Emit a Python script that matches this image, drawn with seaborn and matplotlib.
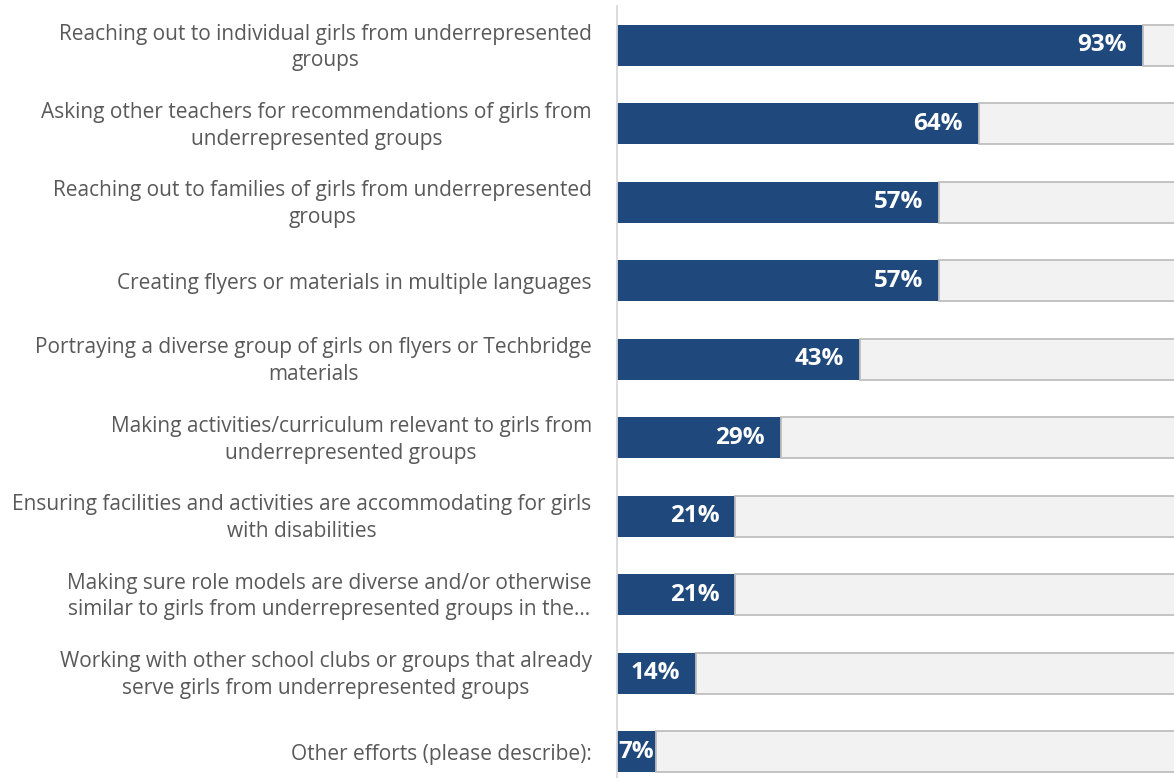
import matplotlib
matplotlib.use("Agg")
import matplotlib.pyplot as plt
import matplotlib.transforms as mtransforms
import seaborn as sns
import pandas as pd

# Survey responses: share of sites using each recruitment effort
efforts = [
    "Reaching out to individual girls from underrepresented\ngroups",
    "Asking other teachers for recommendations of girls from\nunderrepresented groups",
    "Reaching out to families of girls from underrepresented\ngroups",
    "Creating flyers or materials in multiple languages",
    "Portraying a diverse group of girls on flyers or Techbridge\nmaterials",
    "Making activities/curriculum relevant to girls from\nunderrepresented groups",
    "Ensuring facilities and activities are accommodating for girls\nwith disabilities",
    "Making sure role models are diverse and/or otherwise\nsimilar to girls from underrepresented groups in the\u2026",
    "Working with other school clubs or groups that already\nserve girls from underrepresented groups",
    "Other efforts (please describe):",
]
percent_yes = [93, 64, 57, 57, 43, 29, 21, 21, 14, 7]

BLUE = "#1F497D"
REST_FILL = "#F2F2F2"
REST_EDGE = "#BFBFBF"
LABEL_GRAY = "#595959"
FONT = ["Open Sans", "DejaVu Sans"]

sns.set_theme(style="white")
plt.rcParams["font.family"] = FONT

df = pd.DataFrame({"effort": efforts, "pct": percent_yes})
df["rest"] = 100 - df["pct"]

fig = plt.figure(figsize=(11.74, 7.78), dpi=100)
ax = fig.add_axes([0.5253, 0.0, 0.4817, 0.9923])

bar_h = 0.523
sns.barplot(data=df, x="pct", y="effort", orient="h", color=BLUE,
            saturation=1, width=bar_h, edgecolor="none", ax=ax)
# remaining share up to 100%, stacked after the blue segment
ax.barh(range(len(df)), df["rest"], left=df["pct"], height=bar_h,
        color=REST_FILL, edgecolor=REST_EDGE, linewidth=1.3, zorder=1)

for i, v in enumerate(df["pct"]):
    x = max(v - 2.85, 6.6)
    ax.text(x, i, f"{v}%", ha="right", va="center", color="white",
            fontsize=17.5, fontweight="bold", family=FONT)

ax.set_xlim(0, 100)
ax.set_ylim(9.337, -0.5035)
ax.set_xlabel("")
ax.set_ylabel("")
ax.set_xticks([])
ax.tick_params(axis="y", length=0, pad=18, labelsize=15, labelcolor=LABEL_GRAY)
lift = mtransforms.ScaledTranslation(0, 2.5 / 72, fig.dpi_scale_trans)
for t in ax.get_yticklabels():
    t.set_multialignment("center")
    t.set_linespacing(1.36)
    if "\n" in t.get_text():
        t.set_transform(t.get_transform() + lift)

for side in ["top", "right", "bottom"]:
    ax.spines[side].set_visible(False)
ax.spines["left"].set_color("#D9D9D9")
ax.spines["left"].set_linewidth(1.3)

fig.savefig("out.png", dpi=100)
